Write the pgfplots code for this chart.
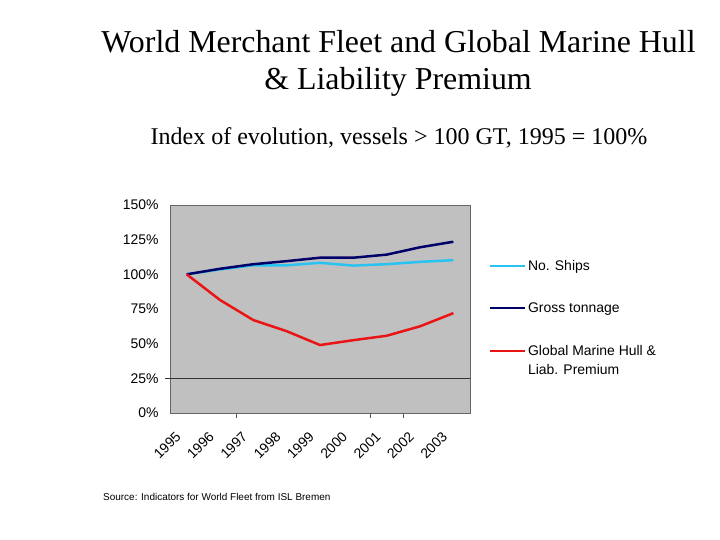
\documentclass[border=0pt]{standalone}
\usepackage{pgfplots}
\pgfplotsset{compat=1.18}
\usepackage{fontspec}
\setmainfont{Liberation Serif}
\newfontfamily\arial{Liberation Sans}
\definecolor{shipc}{RGB}{40,195,240}
\definecolor{gtc}{RGB}{0,0,105}
\definecolor{premc}{RGB}{235,20,20}
\definecolor{bgc}{RGB}{192,192,192}
\begin{document}
\begin{tikzpicture}[x=1bp,y=1bp]
\useasboundingbox[fill=white] (0,0) rectangle (720,540);
\node[anchor=base,font=\fontsize{32}{36}\selectfont] at (398.5,487) {World Merchant Fleet and Global Marine Hull};
\node[anchor=base,font=\fontsize{32}{36}\selectfont] at (398,450) {\& Liability Premium};
\node[anchor=base,font=\fontsize{24.1}{28}\selectfont] at (399,395) {Index of evolution, vessels > 100 GT, 1995 = 100\%};
\node[anchor=base west,inner sep=0pt,font=\arial\fontsize{10}{12}\selectfont] at (103,39) {Source: Indicators for World Fleet from ISL Bremen};
\begin{axis}[
  at={(170bp,127bp)}, anchor=south west,
  scale only axis, width=300bp, height=208bp,
  xmin=-0.5, xmax=8.5, ymin=0, ymax=150,
  axis background/.style={fill=bgc},
  axis line style={draw=gray!80!black, line width=0.8pt},
  ytick={0,25,50,75,100,125,150},
  yticklabels={0\%,25\%,50\%,75\%,100\%,125\%,150\%},
  ytick style={draw=none},
  y tick label style={xshift=-8bp},
  xtick={0,...,8},
  xticklabels={1995,1996,1997,1998,1999,2000,2001,2002,2003},
  xtick style={draw=none},
  xtick pos=bottom,
  x tick label style={rotate=45, anchor=north east, inner sep=1pt, xshift=-20bp, yshift=-3bp},
  extra x ticks={1.5,5.5,6.5},
  extra x tick labels={},
  extra x tick style={xtick style={draw=gray!70!black, line width=0.6pt}, tick align=outside, major tick length=5bp, grid=none},
  tick label style={font=\arial\fontsize{14}{16}\selectfont},
  /pgf/number format/assume math mode=true,
  clip=false,
  legend style={draw=none, fill=none, at={(1.053,0.755)}, anchor=north west, font=\arial\fontsize{14}{17}\selectfont, row sep=27bp},
  legend cell align=left,
  legend image post style={line width=2pt},
  legend image code/.code={\draw[#1] (0bp,0bp) -- (35bp,0bp);},
]
\draw[gray!40!black, line width=0.8pt] (axis cs:-0.65,25) -- (axis cs:8.5,25);
\addplot[shipc, line width=2.5pt] coordinates {(0,100) (1,103.5) (2,106.5) (3,106.5) (4,108.3) (5,106.3) (6,107.3) (7,109) (8,110.2)};
\addlegendentry{No. Ships}
\addplot[gtc, line width=2.5pt] coordinates {(0,100) (1,104) (2,107.3) (3,109.5) (4,112) (5,112) (6,114.2) (7,119.5) (8,123.5)};
\addlegendentry{Gross tonnage}
\addplot[premc, line width=2.5pt] coordinates {(0,100) (1,81.5) (2,67) (3,59) (4,49) (5,52.5) (6,55.7) (7,62.5) (8,72)};
\addlegendentry{\vtop{\hbox{Global Marine Hull \&}\vskip 2.5bp\hbox{Liab. Premium}}}
\end{axis}
\end{tikzpicture}
\end{document}
